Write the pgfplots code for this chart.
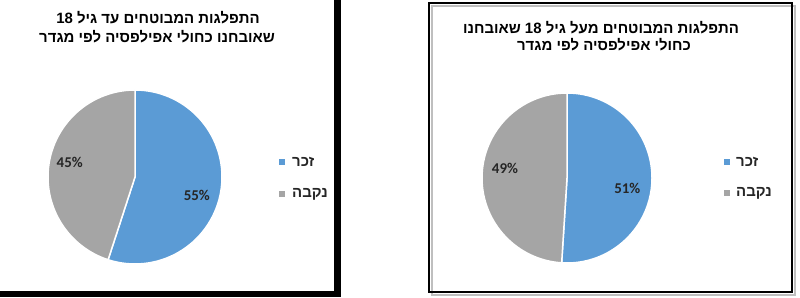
\documentclass[border=0pt]{standalone}
\usepackage{pgfplots}
\pgfplotsset{compat=1.18}
\usepackage{fontspec}
\setmainfont{Liberation Sans}
\newfontfamily\hebfont[Script=Hebrew]{Liberation Sans}
\newfontfamily\calfont{Carlito}
\TeXXeTstate=1
\definecolor{pieblue}{HTML}{5B9BD5}
\definecolor{piegray}{HTML}{A5A5A5}
\definecolor{lbl}{HTML}{262626}
% data (percent)
\def\maleA{55}\def\femaleA{45}
\def\maleB{51}\def\femaleB{49}
\begin{document}
\begin{tikzpicture}[x=1bp,y=1bp]
\path[fill=white] (0,0) rectangle (800,297);
% left panel frame
\fill[black] (334,0) rectangle (341,297);
\fill[black] (0,0) rectangle (341,6);
% right panel frame
\draw[black!25, line width=2bp] (432,2) rectangle (795,291);
\draw[black, line width=1.8bp] (429,5) rectangle (792,294);

\coordinate (cL) at (135,120);
\coordinate (cR) at (567,119);

% titles
\node[anchor=base, font=\hebfont\bfseries\fontsize{15}{17}\selectfont, inner sep=0] at (158,274) {\beginR התפלגות המבוטחים עד גיל \beginL 18\endL{}\endR};
\node[anchor=base, font=\hebfont\bfseries\fontsize{15}{17}\selectfont, inner sep=0] at (157,255) {\beginR שאובחנו כחולי אפילפסיה לפי מגדר\endR};
\node[anchor=base, font=\hebfont\bfseries\fontsize{15}{17}\selectfont, inner sep=0] at (601,264) {\beginR התפלגות המבוטחים מעל גיל \beginL 18\endL{} שאובחנו\endR};
\node[anchor=base, font=\hebfont\bfseries\fontsize{15}{17}\selectfont, inner sep=0] at (604,247) {\beginR כחולי אפילפסיה לפי מגדר\endR};

% left pie
\begin{axis}[at={(cL)}, anchor=center, width=174bp, height=174bp,
  scale only axis, hide axis, xmin=-1, xmax=1, ymin=-1, ymax=1, clip=false]
\addplot[draw=none, forget plot] coordinates {(0,0)};
\filldraw[fill=pieblue, draw=white, line width=1.5bp] (axis cs:0,0) -- (axis cs:0,1) arc[start angle=90, delta angle={-3.6*\maleA}, radius=87bp] -- cycle;
\filldraw[fill=piegray, draw=white, line width=1.5bp] (axis cs:0,0) -- (axis cs:0,1) arc[start angle=90, delta angle={3.6*\femaleA}, radius=87bp] -- cycle;
\node[font=\calfont\bfseries\fontsize{15}{17}\selectfont, text=lbl] at (axis cs:0.71,-0.21) {\maleA\%};
\node[font=\calfont\bfseries\fontsize{15}{17}\selectfont, text=lbl] at (axis cs:-0.75,0.17) {\femaleA\%};
\end{axis}

% right pie
\begin{axis}[at={(cR)}, anchor=center, width=170bp, height=170bp,
  scale only axis, hide axis, xmin=-1, xmax=1, ymin=-1, ymax=1, clip=false]
\addplot[draw=none, forget plot] coordinates {(0,0)};
\filldraw[fill=pieblue, draw=white, line width=1.5bp] (axis cs:0,0) -- (axis cs:0,1) arc[start angle=90, delta angle={-3.6*\maleB}, radius=85bp] -- cycle;
\filldraw[fill=piegray, draw=white, line width=1.5bp] (axis cs:0,0) -- (axis cs:0,1) arc[start angle=90, delta angle={3.6*\femaleB}, radius=85bp] -- cycle;
\node[font=\calfont\bfseries\fontsize{15}{17}\selectfont, text=lbl] at (axis cs:0.71,-0.12) {\maleB\%};
\node[font=\calfont\bfseries\fontsize{15}{17}\selectfont, text=lbl] at (axis cs:-0.73,0.11) {\femaleB\%};
\end{axis}

% legends
\fill[pieblue] (279,132) rectangle (285,138);
\node[anchor=west, inner sep=0, font=\hebfont\bfseries\fontsize{15}{17}\selectfont, text=lbl] at (292,135) {\beginR זכר\endR};
\fill[piegray] (279,100) rectangle (285,106);
\node[anchor=west, inner sep=0, font=\hebfont\bfseries\fontsize{15}{17}\selectfont, text=lbl] at (292,103) {\beginR נקבה\endR};
\fill[pieblue] (724,132) rectangle (730,138);
\node[anchor=west, inner sep=0, font=\hebfont\bfseries\fontsize{15}{17}\selectfont, text=lbl] at (736,135) {\beginR זכר\endR};
\fill[piegray] (724,101) rectangle (730,107);
\node[anchor=west, inner sep=0, font=\hebfont\bfseries\fontsize{15}{17}\selectfont, text=lbl] at (736,104) {\beginR נקבה\endR};
\end{tikzpicture}
\end{document}
